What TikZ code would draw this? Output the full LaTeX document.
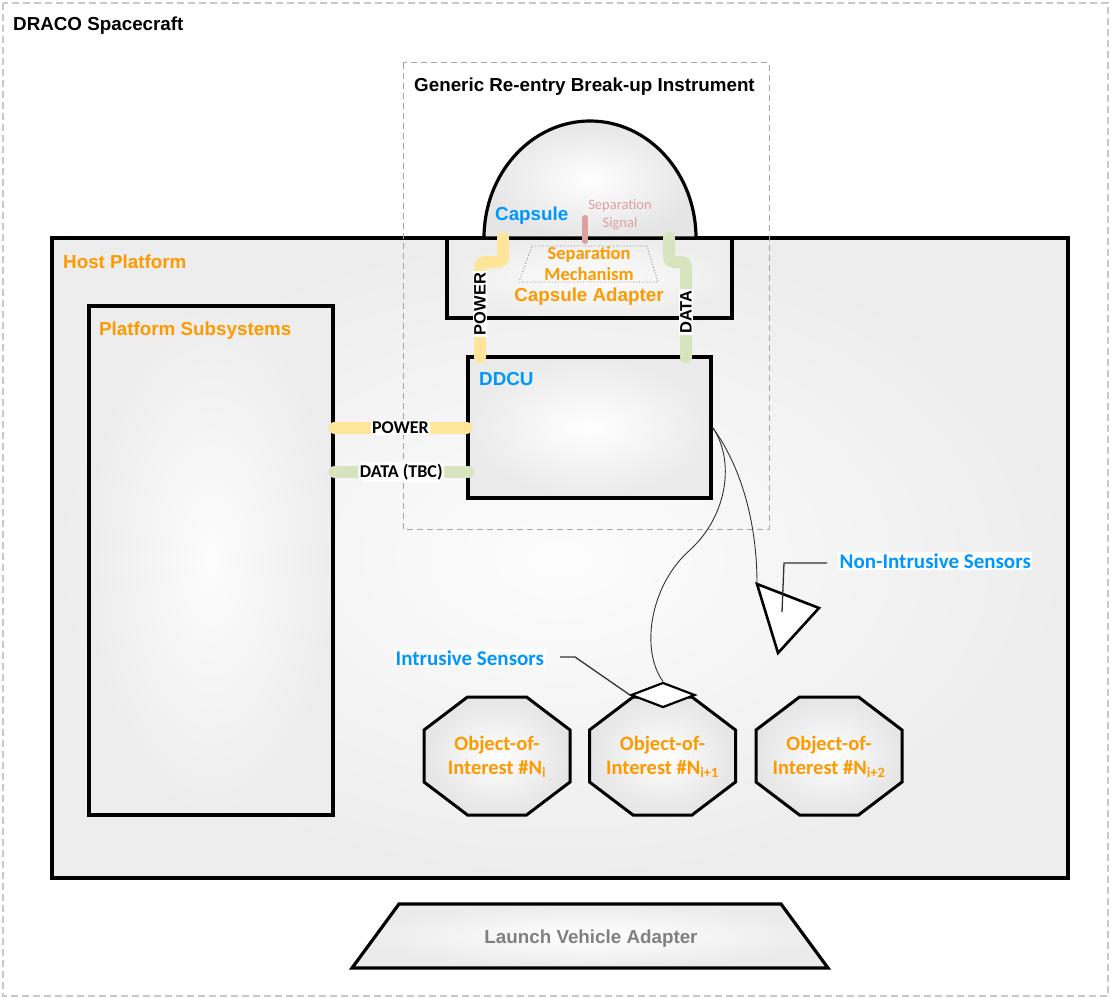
\documentclass[tikz,border=0pt]{standalone}
\usepackage{fontspec}
\setmainfont{Liberation Sans}
\newfontfamily\calfont{Carlito}
\usetikzlibrary{calc,shapes.geometric}

\definecolor{hdrorange}{RGB}{255,153,0}
\definecolor{hdrblue}{RGB}{0,150,255}
\definecolor{pwryellow}{RGB}{255,229,153}
\definecolor{datgreen}{RGB}{215,228,189}
\definecolor{sigpink}{RGB}{222,160,158}
\definecolor{envgray}{RGB}{200,200,200}
\definecolor{instrgray}{RGB}{165,165,165}
\definecolor{lvagray}{RGB}{128,128,128}
\definecolor{wiregray}{RGB}{50,50,50}

\begin{document}
\begin{tikzpicture}[x=1pt,y=-1pt,
  hdr/.style={font=\fontsize{18.8}{21}\selectfont\bfseries, inner sep=0pt},
  cal/.style={font=\calfont\fontsize{#1}{#1}\selectfont, inner sep=0pt},
  calb/.style={font=\calfont\bfseries\fontsize{#1}{#1}\selectfont, inner sep=0pt},
  blk/.style={draw=black, line width=3.2pt},
  panel/.style={blk, inner color=white!99!black, outer color=white!93!black, inner sep=0pt},
  envelope/.style={draw=envgray, line width=1.3pt, dash pattern=on 7pt off 4pt},
  instr/.style={draw=instrgray, line width=1pt, dash pattern=on 6pt off 4pt},
  pwr/.style={draw=pwryellow, line width=12pt, line cap=round, rounded corners=5pt},
  dat/.style={draw=datgreen, line width=12pt, line cap=round, rounded corners=5pt},
  wire/.style={draw=wiregray, line width=0.9pt},
  leader/.style={draw=wiregray, line width=1.3pt},
  tag/.style={fill=white, inner sep=1.5pt},
  octa/.style={blk, line width=3pt, inner color=white, outer color=white!90!black},
]
\useasboundingbox (0,0) rectangle (1111,998);

% spacecraft envelope
\draw[envelope] (3,3) rectangle (1108,996);
\node[hdr, anchor=base west] (sctitle) at (13,31) {DRACO Spacecraft};

% host platform and its subsystems
\node[panel, minimum width=1016pt, minimum height=640pt] (hp) at (560,558) {};
\node[hdr, text=hdrorange, anchor=base west] (hptitle) at (63,268) {Host Platform};
\node[panel, minimum width=244pt, minimum height=509pt] (ps) at (211,560.5) {};
\node[hdr, text=hdrorange, anchor=base west] (pstitle) at (99,335) {Platform Subsystems};

% capsule adapter, capsule dome and separation mechanism
\node[panel, minimum width=285pt, minimum height=80pt] (ca) at (589.5,278) {};
\draw[blk, inner color=white, outer color=white!90!black]
  (484,238) arc[start angle=180, end angle=0, x radius=106pt, y radius=117pt] -- cycle;
\draw[black!55, dotted, line width=0.8pt] (532,246) -- (647,246) -- (658,282) -- (519,282) -- cycle;
\node[hdr, text=hdrblue, anchor=base west] (captitle) at (495,220) {Capsule};
\node[calb=18.5, text=hdrorange, anchor=base] (sep1) at (589,259) {Separation};
\node[calb=18.5, text=hdrorange, anchor=base] (sep2) at (589,280) {Mechanism};
\node[hdr, text=hdrorange, anchor=base] (catitle) at (589,301) {Capsule Adapter};
\node[cal=14.5, text=sigpink, anchor=base] (sig1) at (620,209) {Separation};
\node[cal=14.5, text=sigpink, anchor=base] (sig2) at (620,227) {Signal};
\coordinate (sigtop) at (585,218);
\coordinate (sigbot) at (585,241);
\draw[draw=sigpink, line width=6pt, line cap=round] (sigtop) -- (sigbot);

% data distribution and control unit
\node[panel, inner color=white, outer color=white!92!black, minimum width=243pt, minimum height=141pt] (ddcu) at (589.5,427.5) {};
\node[hdr, text=hdrblue, anchor=base west] (ddcutitle) at (479,385) {DDCU};

% instrument boundary
\draw[instr] (403,63) rectangle (769,529);
\node[hdr, anchor=base west] (grititle) at (414,92) {Generic Re-entry Break-up Instrument};

% capsule harness
\coordinate (cappwr) at (503,238);
\coordinate (capdat) at (669,238);
\coordinate (ddcupwr) at (480,357);
\coordinate (ddcudat) at (686,357);
\draw[pwr] (cappwr) -- (503,262) -- (480,262) -- (ddcupwr);
\draw[dat] (capdat) -- (669,262) -- (686,262) -- (ddcudat);
\node[tag, rotate=90, font=\fontsize{16.5}{18}\selectfont\bfseries] (pwrv) at (480,304) {POWER};
\node[tag, rotate=90, font=\fontsize{16.5}{18}\selectfont\bfseries] (datv) at (686,312) {DATA};

% platform harness
\coordinate (ddcuD) at (468,472);
\draw[pwr] (ps.east |- ddcu.west) -- (ddcu.west)
  node[midway, tag, font=\calfont\bfseries\fontsize{18}{18}\selectfont] (pwrh) {POWER};
\draw[dat] (ps.east |- ddcuD) -- (ddcuD)
  node[midway, tag, font=\calfont\bfseries\fontsize{18}{18}\selectfont] (dath) {DATA (TBC)};

% objects of interest
\foreach \cx/\nm/\sub in {497/obj1/i, 662.5/obj2/i+1, 829/obj3/i+2}{
  \draw[octa] (\cx-29.5,697) -- (\cx+29.5,697) -- (\cx+73,730) -- (\cx+73,782)
    -- (\cx+29.5,815) -- (\cx-29.5,815) -- (\cx-73,782) -- (\cx-73,730) -- cycle;
  \node[calb=20.5, text=hdrorange, anchor=base] (\nm a) at (\cx,750) {Object-of-};
  \node[calb=20.5, text=hdrorange, anchor=base] (\nm b) at (\cx,774) {Interest \#N\textsubscript{\sub}};
}

% sensors
\node[diamond, draw=black, line width=2.2pt, fill=white, minimum width=64pt, minimum height=25pt, inner sep=0pt] (isens) at (663,695) {};
\coordinate (tri1) at (757,584);
\coordinate (tri2) at (819,608);
\coordinate (tri3) at (778,653);
\draw[draw=black, line width=2.6pt, fill=white, line join=miter] (tri1) -- (tri2) -- (tri3) -- cycle;

\draw[wire] (ddcu.east) .. controls (735,460) and (728,515) .. (690,550)
  .. controls (650,585) and (640,650) .. (isens.north);
\draw[wire] (ddcu.east) .. controls (740,465) and (757,520) .. (tri1);

\node[calb=21, text=hdrblue, anchor=base west, fill=white, inner sep=1.5pt] (ilabel) at (394,665) {Intrusive Sensors};
\node[calb=21, text=hdrblue, anchor=base west, fill=white, inner sep=1.5pt] (nlabel) at (838,568) {Non-Intrusive Sensors};
\coordinate (ilead) at (560,657);
\coordinate (nlead) at (827,563);
\coordinate (nend) at (782,612);
\draw[leader] (ilead) -- (575,657) -- (isens.west);
\draw[leader] (nlead) -- (784,563) -- (nend);

% launch vehicle adapter
\coordinate (lva1) at (399,904);
\coordinate (lva2) at (781,904);
\coordinate (lva3) at (828,968);
\coordinate (lva4) at (352,968);
\draw[blk, inner color=white, outer color=white!92!black] (lva1) -- (lva2) -- (lva3) -- (lva4) -- cycle;
\node[hdr, text=lvagray, anchor=base] (lvatitle) at (591,943) {Launch Vehicle Adapter};
\end{tikzpicture}
\end{document}
